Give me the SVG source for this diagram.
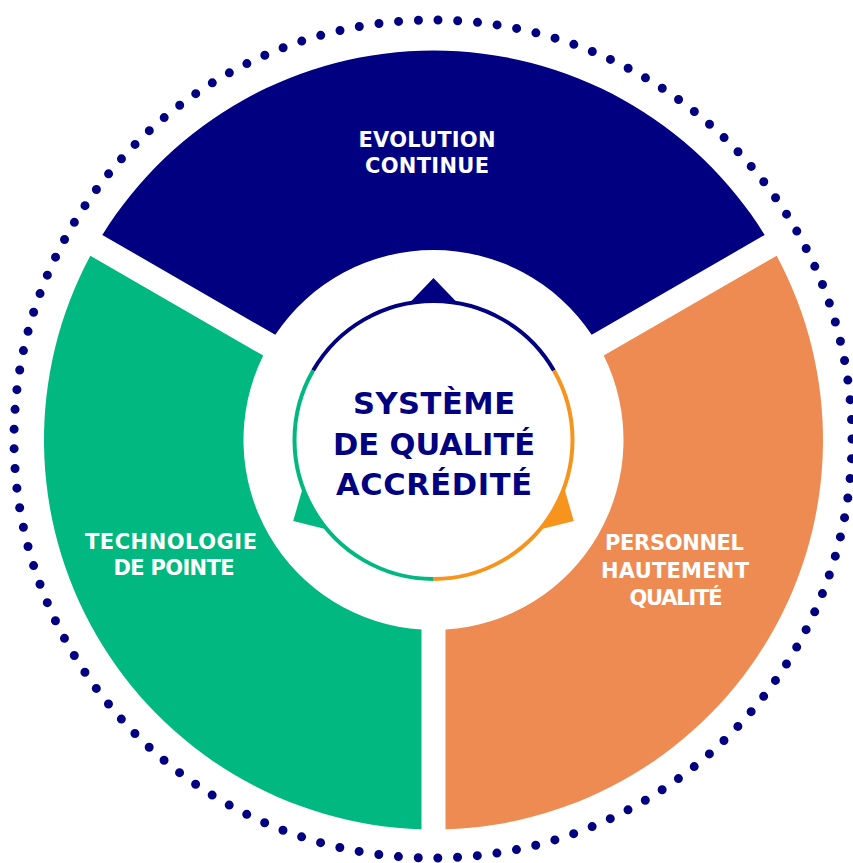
<svg xmlns="http://www.w3.org/2000/svg" width="853" height="863" viewBox="0 0 853 863">
<style>
.lbl{font-family:"DejaVu Sans","Liberation Sans",Arial,sans-serif;font-weight:bold;font-size:21px;fill:#ffffff;text-anchor:middle}
.ctr{font-family:"DejaVu Sans","Liberation Sans",Arial,sans-serif;font-weight:bold;font-size:30.5px;fill:#000080;text-anchor:middle}
.navy{fill:#000080}
.green{fill:#00B880}
.orange{fill:#EE8B52}
.arc{fill:none;stroke-width:4}
</style>
<rect width="853" height="863" fill="#ffffff"/>
<circle id="dotted-ring" cx="433" cy="439" r="419" fill="none" stroke="#000080" stroke-width="9" stroke-linecap="round" stroke-dasharray="0 19.79"/>
<g id="node-evolution">
<path class="navy" d="M102.33,234.96 A389.5,389.5 0 0 1 764.67,234.96 L591.70,334.78 A190,190 0 0 0 275.30,334.78 Z"/>
<text class="lbl" x="427" y="147" textLength="137">EVOLUTION</text>
<text class="lbl" x="427" y="173" textLength="124">CONTINUE</text>
</g>
<g id="node-personnel">
<path class="orange" d="M776.67,255.75 A389.5,389.5 0 0 1 445.5,829.32 L445.5,629.62 A190,190 0 0 0 603.72,355.58 Z"/>
<text class="lbl" x="674.5" y="550" textLength="139">PERSONNEL</text>
<text class="lbl" x="675" y="578" textLength="148">HAUTEMENT</text>
<text class="lbl" x="676" y="605" textLength="93">QUALITÉ</text>
</g>
<g id="node-technologie">
<path class="green" d="M421.5,829.32 A389.5,389.5 0 0 1 90.33,255.75 L263.28,355.58 A190,190 0 0 0 421.5,629.62 Z"/>
<text class="lbl" x="171" y="549" textLength="172">TECHNOLOGIE</text>
<text class="lbl" x="174" y="575" textLength="121">DE POINTE</text>
</g>
<g id="connectors">
<polygon fill="#000080" points="433.5,278 458.5,304 408.5,304"/>
<polygon fill="#F7941D" points="573.8,521 538.78,529.65 563.78,486.35"/>
<polygon fill="#00B880" points="293.2,521 303.22,486.35 328.22,529.65"/>
<circle cx="433.5" cy="440" r="139" fill="#ffffff"/>
<path class="arc" stroke="#000080" d="M313.12,370.5 A139,139 0 0 1 553.88,370.5"/>
<path class="arc" stroke="#F7941D" d="M553.88,370.5 A139,139 0 0 1 433.5,579"/>
<path class="arc" stroke="#00B880" d="M433.5,579 A139,139 0 0 1 313.12,370.5"/>
</g>
<g id="node-center">
<text class="ctr" x="434" y="414" textLength="162">SYSTÈME</text>
<text class="ctr" x="434" y="455" textLength="202">DE QUALITÉ</text>
<text class="ctr" x="434" y="495" textLength="196">ACCRÉDITÉ</text>
</g>
</svg>
